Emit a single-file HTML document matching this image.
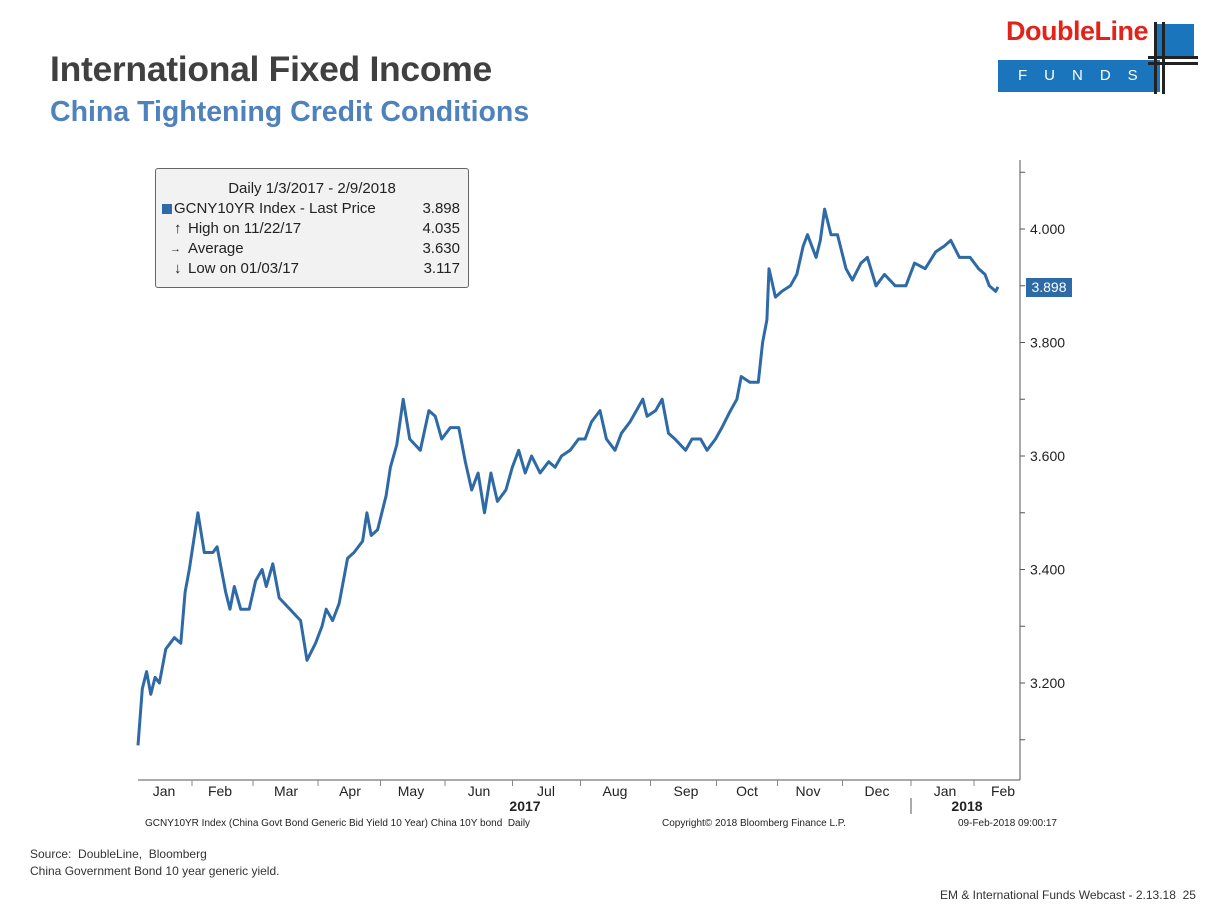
<!DOCTYPE html>
<html><head><meta charset="utf-8"><style>
body{margin:0;width:1211px;height:905px;background:#fff;font-family:"Liberation Sans",sans-serif;position:relative;overflow:hidden}
.a{position:absolute;white-space:nowrap}
</style></head><body>
<div class="a" style="left:50px;top:49px;font-size:35.5px;font-weight:bold;color:#404040;letter-spacing:-0.3px">International Fixed Income</div>
<div class="a" style="left:50px;top:96px;font-size:28.5px;font-weight:bold;color:#4f81bd">China Tightening Credit Conditions</div>
<div class="a" style="left:998px;top:16px;width:200px;height:76px">
<div class="a" style="left:8px;top:0;font-size:27px;font-weight:bold;color:#e2231a;letter-spacing:-0.5px">DoubleLine</div>
<div class="a" style="left:0;top:44px;width:162px;height:32px;background:#1a75bc;color:#fff;font-size:15px;letter-spacing:17px;line-height:32px;text-indent:20px">FUNDS</div>
<div class="a" style="left:158px;top:8px;width:38px;height:35px;background:#1a75bc"></div>
<div class="a" style="left:156px;top:6px;width:3px;height:72px;background:#222"></div>
<div class="a" style="left:164px;top:6px;width:3px;height:72px;background:#222"></div>
<div class="a" style="left:150px;top:40px;width:50px;height:3px;background:#222"></div>
<div class="a" style="left:150px;top:46px;width:50px;height:3px;background:#222"></div>
</div>
<svg class="a" style="left:0;top:0" width="1211" height="905">
<g id="axes"></g><path id="line" fill="none" stroke="#2e6aa5" stroke-width="3" stroke-linejoin="round"/>
<g id="over"></g>
</svg>
<div class="a" style="left:155px;top:168px;width:312px;height:118px;border:1px solid #666;border-radius:3px;background:#f2f2f2;font-size:15px;color:#222;line-height:20px">
<div style="text-align:center;margin-top:10px">Daily 1/3/2017 - 2/9/2018</div>
<div style="padding-left:18px;position:relative"><span style="position:absolute;left:6px;top:5px;width:10px;height:10px;background:#2e6aa5"></span>GCNY10YR Index - Last Price<span style="position:absolute;right:8px">3.898</span></div>
<div style="padding-left:32px;position:relative"><span style="position:absolute;left:18px">↑</span>High on 11/22/17<span style="position:absolute;right:8px">4.035</span></div>
<div style="padding-left:32px;position:relative"><span style="position:absolute;left:14px;font-size:11px">→</span>Average<span style="position:absolute;right:8px">3.630</span></div>
<div style="padding-left:32px;position:relative"><span style="position:absolute;left:18px">↓</span>Low on 01/03/17<span style="position:absolute;right:8px">3.117</span></div>
</div>
<div class="a" style="left:1026px;top:278px;width:46px;height:19px;background:#2e6aa5;color:#fff;font-size:14px;line-height:19px;text-align:center">3.898</div>
<div class="a" style="left:145px;top:818px;font-size:10px;color:#222">GCNY10YR Index (China Govt Bond Generic Bid Yield 10 Year) China 10Y bond&nbsp; Daily</div>
<div class="a" style="left:662px;top:818px;font-size:10px;color:#222">Copyright© 2018 Bloomberg Finance L.P.</div>
<div class="a" style="left:958px;top:818px;font-size:10px;color:#222">09-Feb-2018 09:00:17</div>
<div class="a" style="left:30px;top:846px;font-size:12px;color:#333;line-height:17px">Source:&nbsp; DoubleLine,&nbsp; Bloomberg<br>China Government Bond 10 year generic yield.</div>
<div class="a" style="left:940px;top:888px;font-size:12px;color:#333">EM &amp; International Funds Webcast - 2.13.18&nbsp; 25</div>
<script>
const days=[0,2,4,6,8,10,13,15,17,20,22,24,28,31,35,37,41,43,45,48,52,55,58,60,63,66,71,76,79,83,86,88,91,94,98,101,105,107,109,112,116,118,121,124,127,132,136,139,142,146,150,153,156,159,162,165,168,172,175,178,181,184,188,192,195,198,202,206,209,212,216,219,223,226,230,233,236,238,242,245,248,251,256,259,263,266,270,273,277,280,282,286,290,292,294,295,298,301,305,308,311,313,317,319,321,324,327,331,334,338,341,345,349,354,359,363,368,373,377,380,384,389,393,396,398,401,402];
const vals=[3.09,3.19,3.22,3.18,3.21,3.20,3.26,3.27,3.28,3.27,3.36,3.40,3.50,3.43,3.43,3.44,3.36,3.33,3.37,3.33,3.33,3.38,3.40,3.37,3.41,3.35,3.33,3.31,3.24,3.27,3.30,3.33,3.31,3.34,3.42,3.43,3.45,3.50,3.46,3.47,3.53,3.58,3.62,3.70,3.63,3.61,3.68,3.67,3.63,3.65,3.65,3.59,3.54,3.57,3.50,3.57,3.52,3.54,3.58,3.61,3.57,3.60,3.57,3.59,3.58,3.60,3.61,3.63,3.63,3.66,3.68,3.63,3.61,3.64,3.66,3.68,3.70,3.67,3.68,3.70,3.64,3.63,3.61,3.63,3.63,3.61,3.63,3.65,3.68,3.70,3.74,3.73,3.73,3.80,3.84,3.93,3.88,3.89,3.90,3.92,3.97,3.99,3.95,3.98,4.035,3.99,3.99,3.93,3.91,3.94,3.95,3.90,3.92,3.90,3.90,3.94,3.93,3.96,3.97,3.98,3.95,3.95,3.93,3.92,3.90,3.89,3.898];
const yTicks=[3.2,3.4,3.6,3.8,4.0];
const months=["Jan","Feb","Mar","Apr","May","Jun","Jul","Aug","Sep","Oct","Nov","Dec","Jan","Feb"];
const monthX=[164,220,286,350,411,479,546,615,686,747,808,877,945,1003];
const X=d=>138+d*2.139, Y=v=>229+(4.0-v)*567.5;
const ns="http://www.w3.org/2000/svg";
function mk(t,a,p){const e=document.createElementNS(ns,t);for(const k in a)e.setAttribute(k,a[k]);(p||document.getElementById('axes')).appendChild(e);return e;}
let d="";days.forEach((x,i)=>{d+=(i?"L":"M")+X(x).toFixed(1)+","+Y(vals[i]).toFixed(1)});
document.getElementById('line').setAttribute('d',d);
const ax=mk('line',{x1:1020,y1:160,x2:1020,y2:780,stroke:'#555'});


const bx=mk('line',{x1:138,y1:780,x2:1020,y2:780,stroke:'#555'});


for(let v=3.1;v<=4.11;v+=0.1){mk('line',{x1:1020,x2:1025,y1:Y(v),y2:Y(v),stroke:'#555'});}
yTicks.forEach(v=>{const t=mk('text',{x:1030,y:Y(v)+5,'font-size':14,fill:'#222'});t.textContent=v.toFixed(3);

});
months.forEach((m,i)=>{const t=mk('text',{x:monthX[i],y:796,'font-size':14,fill:'#222','text-anchor':'middle'});t.textContent=m;


if(i<months.length-1){const sx=(monthX[i]+monthX[i+1])/2;mk('line',{x1:sx,x2:sx,y1:780,y2:786,stroke:'#888'});}});
[[525,"2017"],[967,"2018"]].forEach(([x,s])=>{const t=mk('text',{x:x,y:811,'font-size':14,'font-weight':'bold',fill:'#222','text-anchor':'middle'});t.textContent=s;

});
mk('line',{x1:911,x2:911,y1:798,y2:814,stroke:'#555'});
</script>
</body></html>
